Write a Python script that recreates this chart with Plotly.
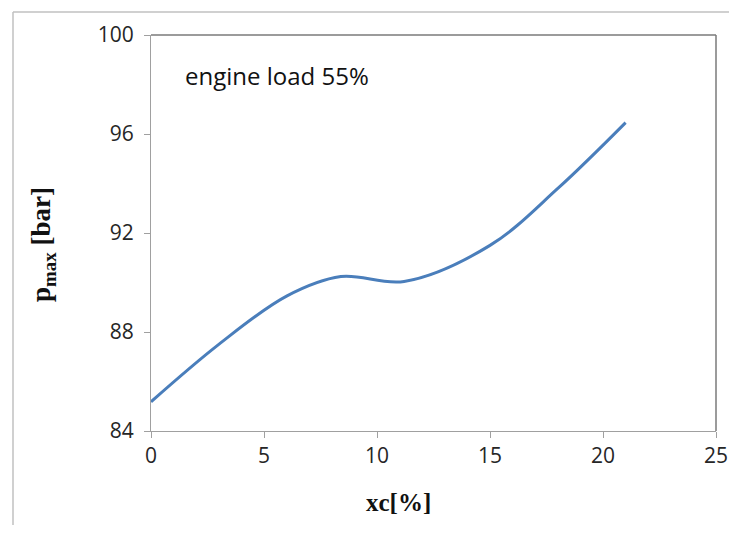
import plotly.graph_objects as go

xc = [0, 3, 6, 8.4, 11.2, 15, 18, 21]
pmax = [85.18, 87.5, 89.45, 90.24, 90.04, 91.5, 93.8, 96.46]

x_ticks = [0, 5, 10, 15, 20, 25]
y_ticks = [84, 88, 92, 96, 100]

# page body adds an 8 px margin on every side; keep the figure inside it
OFF = 8
W, H = 737 - 2 * OFF, 533 - 2 * OFF
L, R, T, B = 151 - OFF, 716 - OFF, 35 - OFF, 431 - OFF

fig = go.Figure()
fig.add_trace(go.Scatter(
    x=xc, y=pmax, mode="lines",
    line=dict(color="#4A7EBB", width=3, shape="spline", smoothing=1.0),
    showlegend=False, hoverinfo="skip",
))

tick_font = dict(family="Open Sans, Lato, sans-serif", size=21, color="#262626")

fig.update_layout(
    width=W, height=H,
    margin=dict(l=L, r=W - R, t=T, b=H - B),
    paper_bgcolor="white", plot_bgcolor="white",
    xaxis=dict(range=[0, 25], tickvals=x_ticks, ticks="outside", ticklen=6,
               tickcolor="#a0a0a0", showline=True, linecolor="#a0a0a0", linewidth=1,
               showgrid=False, zeroline=False, tickfont=tick_font, fixedrange=True,
               automargin=False),
    yaxis=dict(range=[84, 100], tickvals=y_ticks, ticks="outside", ticklen=6,
               tickcolor="#a0a0a0", showline=True, linecolor="#a0a0a0", linewidth=1,
               showgrid=False, zeroline=False, tickfont=tick_font, fixedrange=True,
               ticklabelstandoff=6, automargin=False),
)

pw, ph = R - L, B - T

def px(xp):
    return (xp - OFF - L) / pw

def py(yp):
    return (B - (yp - OFF)) / ph

# outer frame (left and top edges visible)
fig.add_shape(type="line", xref="paper", yref="paper",
              x0=px(13), x1=px(760), y0=py(12), y1=py(12),
              line=dict(color="#c0c0c0", width=1.5), layer="below")
fig.add_shape(type="line", xref="paper", yref="paper",
              x0=px(13), x1=px(13), y0=py(12), y1=py(560),
              line=dict(color="#c0c0c0", width=1.5), layer="below")
# darker top/right plot border
fig.add_shape(type="line", xref="paper", yref="paper", x0=0, x1=1, y0=1, y1=1,
              line=dict(color="#7a7a7a", width=1.5))
fig.add_shape(type="line", xref="paper", yref="paper", x0=1, x1=1, y0=0, y1=1,
              line=dict(color="#7a7a7a", width=1.5))

fig.add_annotation(text="engine load 55%", xref="paper", yref="paper",
                   x=px(183), y=py(76), xanchor="left", yanchor="middle",
                   showarrow=False,
                   font=dict(family="Open Sans, Lato, sans-serif", size=24, color="#111111"))
fig.add_annotation(text="<b>xc[%]</b>", xref="paper", yref="paper",
                   x=px(398), y=py(502), xanchor="center", yanchor="middle",
                   showarrow=False,
                   font=dict(family="Liberation Serif, Times New Roman, serif", size=25, color="#111111"))
fig.add_annotation(text="<b>p<sub>max</sub> [bar]</b>", xref="paper", yref="paper",
                   x=px(43), y=py(245), xanchor="center", yanchor="middle",
                   showarrow=False, textangle=-90,
                   font=dict(family="Liberation Serif, Times New Roman, serif", size=27, color="#111111"))

fig.write_html("out.html")
